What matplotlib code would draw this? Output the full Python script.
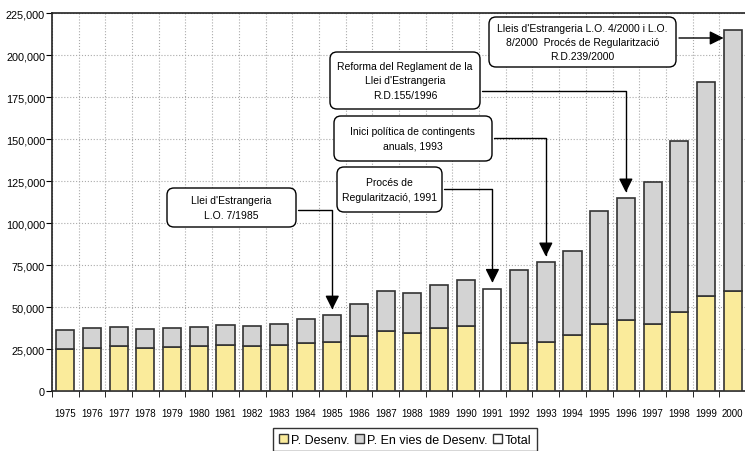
import numpy as np
import matplotlib.pyplot as plt
from matplotlib.patches import FancyBboxPatch, Patch
from matplotlib.transforms import IdentityTransform

# data
years = list(range(1975, 2001))
desenv = [25000, 25800, 26600, 25600, 26200, 26800, 27600, 26800, 27400, 28400, 29400, 32900,
          35700, 34500, 37500, 38700, np.nan, 28600, 29400, 33500, 39700, 42100, 39700, 46800,
          56300, 59300]
total = [36100, 37300, 38300, 36700, 37700, 38300, 39500, 38900, 39900, 42700, 45000, 51600,
         59300, 58500, 63300, 65900, 60900, 72200, 76600, 83300, 107000, 114700, 124600, 149000,
         183700, 215100]
series_names = ['P. Desenv.', 'P. En vies de Desenv.', 'Total']

event_texts = ["Llei d'Estrangeria\nL.O. 7/1985",
               "Procés de\nRegularització, 1991",
               "Inici política de contingents\nanuals, 1993",
               "Reforma del Reglament de la\nLlei d'Estrangeria\nR.D.155/1996",
               "Lleis d'Estrangeria L.O. 4/2000 i L.O.\n8/2000  Procés de Regularització\nR.D.239/2000"]
event_years = [1985, 1991, 1993, 1996, 2000]

# box layout in pixels (x0, y0, x1, y1, y of connector), y measured from top
box_px = [(167, 189, 296, 228, 211),
          (337, 168, 442, 213, 190),
          (334, 117, 492, 162, 139),
          (330, 53, 480, 110, 92),
          (489, 18, 676, 68, 39)]

W, H = 745, 452
YELLOW = '#faeb9b'
GRAY = '#d3d3d3'
EDGE = '#333333'

plt.rcParams['font.family'] = ['Liberation Sans', 'DejaVu Sans']

fig = plt.figure(figsize=(W / 100, H / 100), dpi=100)
ax = fig.add_axes([52 / W, 1 - 392 / H, 694 / W, 378 / H])

x = np.arange(len(years))
dev = np.array(desenv, dtype=float)
tot = np.array(total, dtype=float)
has_split = ~np.isnan(dev)

bw = 0.68
ax.bar(x[has_split], dev[has_split], width=bw, color=YELLOW, edgecolor=EDGE, linewidth=1.2, zorder=3)
ax.bar(x[has_split], (tot - dev)[has_split], bottom=dev[has_split], width=bw, color=GRAY,
       edgecolor=EDGE, linewidth=1.2, zorder=3)
ax.bar(x[~has_split], tot[~has_split], width=bw, color='white', edgecolor=EDGE, linewidth=1.2, zorder=3)

ax.set_xlim(-0.5, len(years) - 0.5)
ax.set_ylim(0, 225000)
ax.set_yticks(np.arange(0, 225001, 25000))
ax.set_yticklabels([f'{v:,}' for v in range(0, 225001, 25000)], fontsize=7.8)
ax.set_xticks(x)
ax.set_xticklabels([str(y) for y in years], fontsize=7)
ax.set_xticks(np.arange(-0.5, len(years)), minor=True)
ax.tick_params(axis='x', which='major', length=0, pad=12)
ax.tick_params(axis='x', which='minor', length=4, direction='out')
ax.tick_params(axis='y', length=4, pad=1, direction='out')

ax.grid(axis='y', which='major', linestyle=':', color='#aaaaaa', linewidth=0.8, zorder=0)
ax.grid(axis='x', which='minor', linestyle=':', color='#aaaaaa', linewidth=0.8, zorder=0)
for s in ['left', 'bottom', 'top']:
    ax.spines[s].set_linewidth(1.2)
    ax.spines[s].set_color('#222222')
ax.spines['right'].set_visible(False)

arrow = '-|>,head_length=0.7,head_width=0.35'

# event boxes and arrows
for txt, yr, (x0, y0, x1, y1, ly) in zip(event_texts, event_years, box_px):
    box = FancyBboxPatch((x0, H - y1), x1 - x0, y1 - y0, boxstyle='round,pad=0,rounding_size=7',
                         fc='white', ec='black', lw=1.0, transform=IdentityTransform(), zorder=5)
    fig.patches.append(box)
    fig.text((x0 + x1) / 2 / W, 1 - (y0 + y1) / 2 / H, txt, ha='center', va='center',
             fontsize=7.5, linespacing=1.55, zorder=6)
    i = years.index(yr)
    if yr == years[-1]:
        ax.annotate('', xy=(i - bw / 2, H - ly), xycoords=('data', 'figure pixels'),
                    xytext=(x1 + 3, H - ly), textcoords='figure pixels',
                    arrowprops=dict(arrowstyle=arrow, color='black', lw=1.0,
                                    shrinkA=0, shrinkB=0, mutation_scale=12),
                    annotation_clip=False)
    else:
        ax.annotate('', xy=(i, total[i] + 3500), xycoords='data',
                    xytext=(x1 + 2, H - ly), textcoords='figure pixels',
                    arrowprops=dict(arrowstyle=arrow, color='black', lw=1.0,
                                    shrinkA=0, shrinkB=0, mutation_scale=12,
                                    connectionstyle='angle,angleA=0,angleB=90,rad=0'),
                    annotation_clip=False)

handles = [Patch(fc=YELLOW, ec=EDGE), Patch(fc=GRAY, ec=EDGE), Patch(fc='white', ec=EDGE)]
leg = fig.legend(handles, series_names, loc='upper left', bbox_to_anchor=(273 / W, 1 - 429 / H),
                 ncol=3, fontsize=9, frameon=True, fancybox=False, edgecolor='black',
                 handlelength=0.75, handleheight=0.75, handletextpad=0.25, columnspacing=0.4,
                 borderpad=0.45, borderaxespad=0)
leg.get_frame().set_linewidth(1.0)

fig.savefig('out.png', dpi=100)
